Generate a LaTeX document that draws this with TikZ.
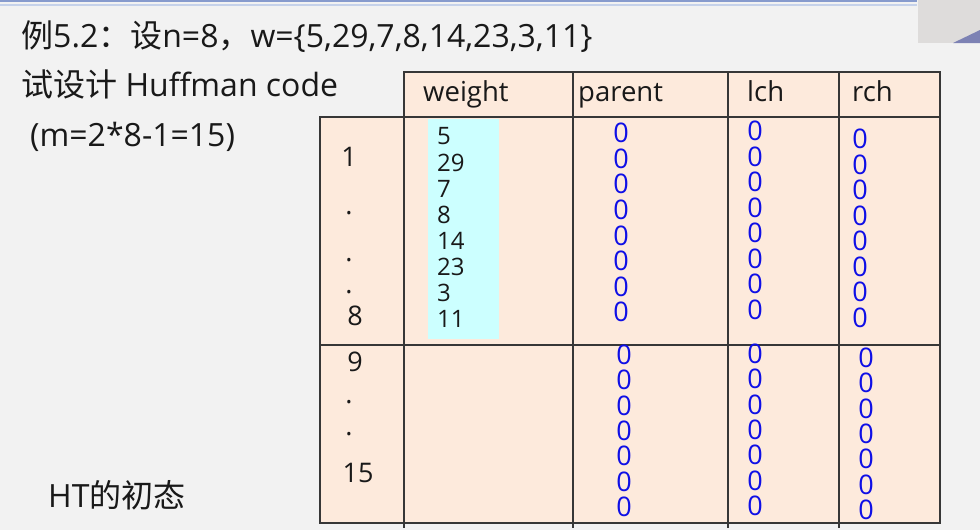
\documentclass[tikz,border=0pt]{standalone}
\usepackage{fontspec}
\setmainfont{Open Sans}
\newfontfamily\cjk{Noto Sans CJK SC}
\definecolor{bgc}{RGB}{242,242,242}
\definecolor{peach}{RGB}{253,234,220}
\definecolor{cyanbox}{RGB}{204,255,255}
\definecolor{zeroc}{RGB}{15,15,230}
\definecolor{gridc}{RGB}{55,55,55}
\definecolor{topblue}{RGB}{135,155,205}
\definecolor{toplight}{RGB}{198,210,234}
\definecolor{camgray}{RGB}{222,220,219}
\definecolor{camblue}{RGB}{125,130,180}
\begin{document}
\begin{tikzpicture}[x=1pt,y=-1pt,
  grid/.style={draw=gridc,line width=1.4pt},
  bigtxt/.style={inner sep=0pt,text=black!90,font=\fontsize{32}{36}\selectfont},
  headtxt/.style={inner sep=0pt,anchor=base west,text=black!90,font=\fontsize{27.5}{30}\selectfont},
  idxtxt/.style={inner sep=0pt,text=black!90,font=\fontsize{27}{30}\selectfont},
  wtxt/.style={inner sep=0pt,anchor=west,text=black!90,font=\fontsize{24}{28}\selectfont},
  zero/.style={inner sep=0pt,text=zeroc,font=\fontsize{27}{30}\selectfont}]
\useasboundingbox (0,0) rectangle (980,530);
\fill[bgc] (0,0) rectangle (980,530);
% slide header lines and camera patch
\fill[topblue] (0,0) rectangle (917,2.2);
\fill[toplight] (0,4.3) rectangle (917,6.2);
\fill[camgray] (918,0) rectangle (980,43);
\fill[camblue] (953,43) -- (980,30) -- (980,43) -- cycle;
% table fills
\fill[peach] (404,72) rectangle (940,117);
\fill[peach] (320,117) rectangle (940,523);
\fill[cyanbox] (428,119) rectangle (499,339);
% grid
\draw[grid] (404,72) rectangle (940,117);
\draw[grid] (320,117) rectangle (940,523);
\draw[grid] (320,345) -- (940,345);
\draw[grid] (404,72) -- (404,528);
\draw[grid] (573,72) -- (573,528);
\draw[grid] (728,72) -- (728,528);
\draw[grid] (839,72) -- (839,528);
% left texts
\node[bigtxt,anchor=base west] (title) at (21,47) {{\cjk 例}5.2{\cjk ：设}n=8{\cjk ，}w=\{5,29,7,8,14,23,3,11\}};
\node[bigtxt,anchor=base west] (line2) at (21,96) {{\cjk 试设计} Huffman code};
\node[bigtxt,anchor=base west] (line3) at (30,146) {(m=2*8-1=15)};
\node[bigtxt,anchor=base west] (htlabel) at (48,507) {HT{\cjk 的初态}};
% header
\node[headtxt] (hw) at (423,101) {weight};
\node[headtxt] (hp) at (578,101) {parent};
\node[headtxt] (hl) at (747,101) {lch};
\node[headtxt] (hr) at (852,101) {rch};
% index column
\node[idxtxt] (i1) at (349,157) {1};
\node[idxtxt] (d1) at (349,213) {.};
\node[idxtxt] (d2) at (349,260) {.};
\node[idxtxt] (d3) at (349,292) {.};
\node[idxtxt] (i8) at (355,316) {8};
\node[idxtxt] (i9) at (355,362) {9};
\node[idxtxt] (d4) at (349,402) {.};
\node[idxtxt] (d5) at (349,434) {.};
\node[idxtxt] (i15) at (358,473) {15};
% weights
\foreach \w [count=\i from 0] in {5,29,7,8,14,23,3,11}
  \node[wtxt] (w\i) at (437,136.5+26*\i) {\w};
% zeros upper
\foreach \i in {0,...,7} {
  \node[zero] (pu\i) at (621,133+25.6*\i) {0};
  \node[zero] (lu\i) at (755,131+25.5*\i) {0};
  \node[zero] (ru\i) at (860,139+25.5*\i) {0};
}
% zeros lower
\foreach \i in {0,...,6} {
  \node[zero] (pl\i) at (624,355+25.3*\i) {0};
  \node[zero] (ll\i) at (755,354+25.3*\i) {0};
  \node[zero] (rl\i) at (866,358+25.3*\i) {0};
}
\end{tikzpicture}
\end{document}
